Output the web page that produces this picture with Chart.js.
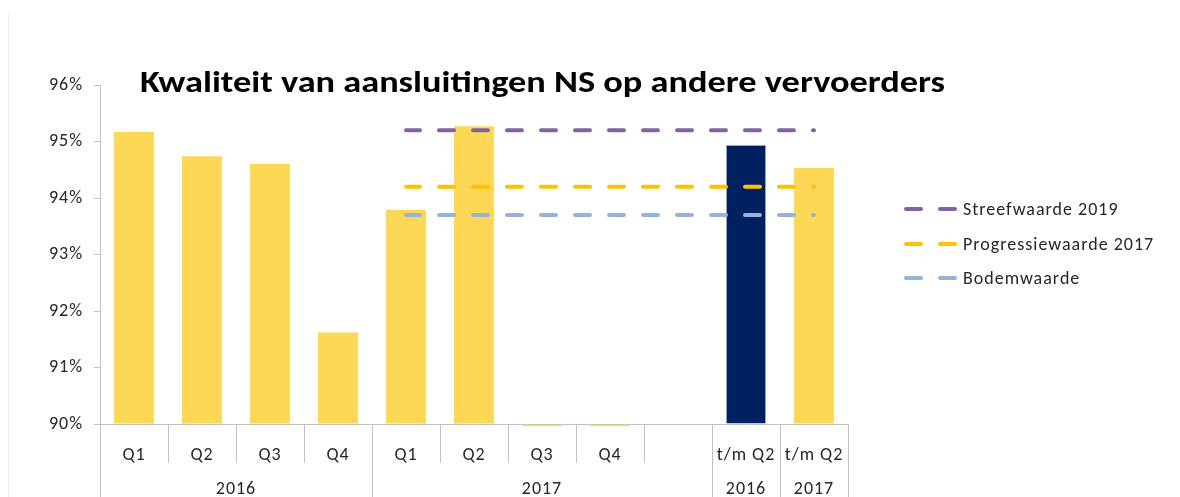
<!DOCTYPE html>
<html>
<head>
<meta charset="utf-8">
<script src="https://cdn.jsdelivr.net/npm/chart.js@4/dist/chart.umd.min.js"></script>
<style>
    body { margin: 0; background: #fff; font-family: Carlito, Lato, sans-serif; }
    #wrap { position: relative; width: 1180px; height: 497px; overflow: hidden; }
    #edge { position: absolute; left: 8px; top: 13px; width: 1px; height: 484px; background: #eeeeee; }
    #title { position: absolute; left: 140px; top: 62px; font-size: 31px; font-weight: bold; color: #000;
             white-space: nowrap; transform-origin: 0 0; }
    #legend { position: absolute; left: 904px; top: 198px; font-size: 18px; letter-spacing: 1px; color: #262626; }
    .item { height: 34.5px; display: flex; align-items: flex-start; }
    .dash { display: inline-block; width: 19px; height: 4px; border-radius: 2px; margin-top: 9px; }
    .gap { display: inline-block; width: 15px; }
    .txt { margin-left: 6px; line-height: 22px; }
</style>
</head>
<body>
<div id="wrap">
    <canvas id="chart" width="1180" height="497"></canvas>
    <div id="edge"></div>
    <div id="title">Kwaliteit van aansluitingen NS op andere vervoerders</div>
    <div id="legend"></div>
</div>
<script>
// ================= DATA =================
const categories = ['Q1', 'Q2', 'Q3', 'Q4', 'Q1', 'Q2', 'Q3', 'Q4', '', 't/m Q2', 't/m Q2'];
const yearLabels = ['2016', '2017', '2016', '2017'];
const yearSizes = [4, 5, 1, 1];   // number of categories under each year
const kwaliteit = [95.17, 94.74, 94.6, 91.62, 93.79, 95.27, 0, 0, null, 94.94, 94.53];
const streefwaarde = [null, null, null, null, 95.2, 95.2, 95.2, 95.2, 95.2, 95.2, 95.2];
const progressiewaarde = [null, null, null, null, 94.2, 94.2, 94.2, 94.2, 94.2, 94.2, 94.2];
const bodemwaarde = [null, null, null, null, 93.7, 93.7, 93.7, 93.7, 93.7, 93.7, 93.7];
const yTicks = [90, 91, 92, 93, 94, 95, 96];

const axisGrey = '#bfbfbf';
const textColor = '#262626';
const labelFont = { family: 'Carlito, Lato, sans-serif', size: 18 };

// bar colours: cumulative 2016 is navy, rest yellow
const barColors = categories.map((c, i) => i === 9 ? '#002060' : '#fcd856');

function dashed(label, data, color) {
    return {
        type: 'line', label: label, data: data,
        borderColor: color, borderWidth: 4,
        borderDash: [15, 19], borderDashOffset: 1, borderCapStyle: 'round',
        pointRadius: 0, fill: false, spanGaps: false, order: 0
    };
}

const lineSets = [
    dashed('Streefwaarde 2019', streefwaarde, '#8064a2'),
    dashed('Progressiewaarde 2017', progressiewaarde, '#ffc000'),
    dashed('Bodemwaarde', bodemwaarde, '#95b3d7')
];

// slightly wider text, the original is stretched sideways
const wideText = {
    id: 'wideText',
    beforeLayout(chart) { chart.ctx.letterSpacing = '1px'; },
    beforeDraw(chart) { chart.ctx.letterSpacing = '1px'; }
};

// --- multi level category axis (separators + year row) ---
const groupAxis = {
    id: 'groupAxis',
    afterDraw(chart) {
        const ctx = chart.ctx;
        const xa = chart.scales.x, ya = chart.scales.y;
        const base = ya.bottom;
        const bottom = chart.height;
        const step = xa.getPixelForValue(1) - xa.getPixelForValue(0);
        const edge = i => i < categories.length ? xa.getPixelForValue(i) - step / 2 : xa.getPixelForValue(i - 1) + step / 2;

        const groupEdges = [0];
        yearSizes.forEach(s => groupEdges.push(groupEdges[groupEdges.length - 1] + s));

        ctx.save();
        ctx.strokeStyle = axisGrey;
        ctx.lineWidth = 1;
        for (let i = 0; i <= categories.length; i++) {
            const x = Math.round(edge(i)) + 0.5;
            const long = groupEdges.includes(i);
            ctx.beginPath();
            ctx.moveTo(x, base);
            ctx.lineTo(x, long ? bottom : base + 39);
            ctx.stroke();
        }
        ctx.fillStyle = textColor;
        ctx.font = labelFont.size + 'px ' + labelFont.family;
        ctx.textAlign = 'center';
        ctx.textBaseline = 'middle';
        yearLabels.forEach((lab, g) => {
            const x = (edge(groupEdges[g]) + edge(groupEdges[g + 1])) / 2;
            ctx.fillText(lab, x, base + 65);
        });
        ctx.restore();
    }
};

new Chart(document.getElementById('chart'), {
    type: 'bar',
    data: {
        labels: categories,
        datasets: [
            ...lineSets,
            {
                label: 'Kwaliteit', data: kwaliteit,
                base: 90,
                backgroundColor: barColors,
                borderColor: barColors.map(c => c === '#002060' ? '#8ea6cf' : c),
                borderWidth: barColors.map(c => c === '#002060' ? 1 : 0),
                barPercentage: 0.59, categoryPercentage: 1,
                order: 10,
                clip: { left: 0, top: 0, right: 0, bottom: 2 }
            }
        ]
    },
    options: {
        responsive: false,
        animation: false,
        layout: { padding: { top: 85, right: 332, bottom: 0, left: 0 } },
        plugins: { legend: { display: false }, tooltip: { enabled: false }, title: { display: false } },
        scales: {
            x: {
                offset: true,
                grid: { display: false },
                border: { display: true, color: axisGrey, width: 1 },
                ticks: { color: textColor, font: labelFont, padding: 13, maxRotation: 0, autoSkip: false },
                afterFit(scale) { scale.height = 73; }
            },
            y: {
                min: 90, max: 96,
                afterBuildTicks(scale) { scale.ticks = yTicks.map(v => ({ value: v })); },
                grid: { display: true, drawOnChartArea: false, tickLength: 6, color: axisGrey },
                border: { display: true, color: axisGrey, width: 1 },
                ticks: { color: textColor, font: labelFont, padding: 11, callback: v => v + '%' },
                afterFit(scale) { scale.width = 100; }
            }
        }
    },
    plugins: [wideText, groupAxis]
});

// legend (html)
const legend = document.getElementById('legend');
lineSets.forEach(ds => {
    const row = document.createElement('div');
    row.className = 'item';
    row.innerHTML = `<span class="dash" style="background:${ds.borderColor}"></span><span class="gap"></span>` +
        `<span class="dash" style="background:${ds.borderColor}"></span><span class="txt">${ds.label}</span>`;
    legend.appendChild(row);
});

// title stretched to the width it has in the original
const title = document.getElementById('title');
title.style.transform = 'scaleX(' + (805 / title.offsetWidth) + ')';
</script>
</body>
</html>
